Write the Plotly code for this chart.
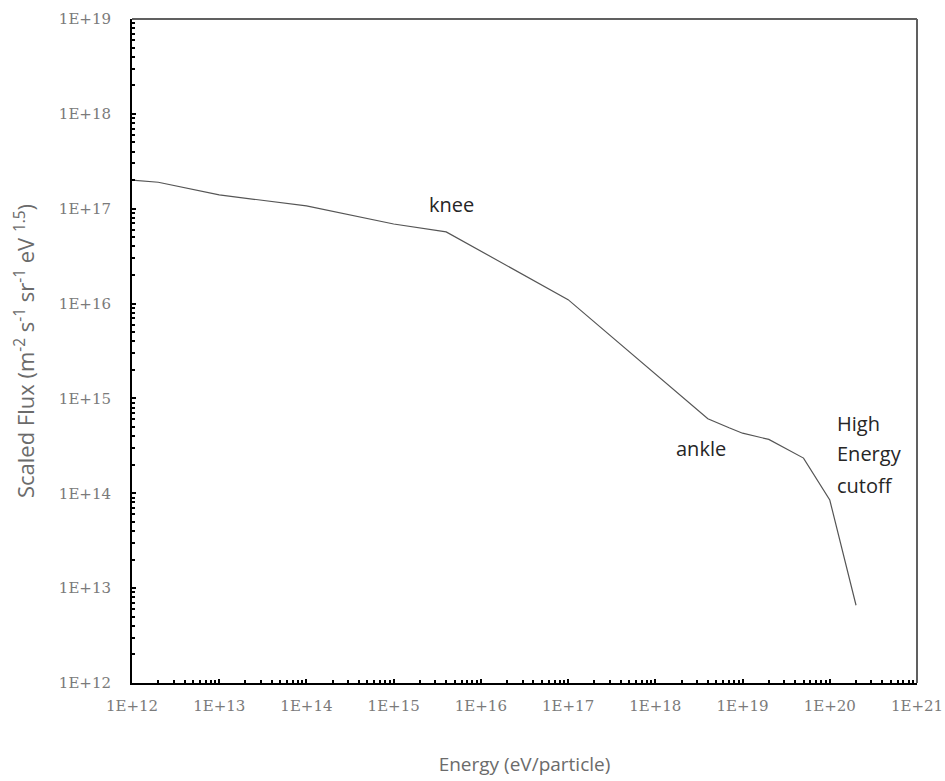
import numpy as np
import plotly.graph_objects as go

energy = [1e12, 2e12, 1e13, 1e14, 1e15, 4e15, 1e17, 4e18, 7e18, 1e19, 2e19, 5e19, 1e20, 2e20]
flux = [2.0e17, 1.9e17, 1.4e17, 1.07e17, 6.9e16, 5.7e16, 1.1e16, 6.1e14, 4.9e14, 4.3e14, 3.7e14, 2.35e14, 8.5e13, 6.6e12]

x_tickvals = [1e12, 1e13, 1e14, 1e15, 1e16, 1e17, 1e18, 1e19, 1e20, 1e21]
x_ticktext = ["1E+12", "1E+13", "1E+14", "1E+15", "1E+16", "1E+17", "1E+18", "1E+19", "1E+20", "1E+21"]
y_tickvals = [1e12, 1e13, 1e14, 1e15, 1e16, 1e17, 1e18, 1e19]
y_ticktext = ["1E+12", "1E+13", "1E+14", "1E+15", "1E+16", "1E+17", "1E+18", "1E+19"]

labels = ["knee", "ankle", "High", "Energy", "cutoff"]
label_x = [4.6e15, 3.3e18, 1.15e20, 1.15e20, 1.15e20]
label_y = [1.1e17, 2.95e14, 5.5e14, 2.65e14, 1.2e14]
label_anchor = ["center", "center", "left", "left", "left"]

fig = go.Figure()
fig.add_trace(go.Scatter(x=energy, y=flux, mode="lines",
                         line=dict(color="#555555", width=1.2), showlegend=False))

for t, xx, yy, anc in zip(labels, label_x, label_y, label_anchor):
    fig.add_annotation(x=np.log10(xx), y=np.log10(yy), xref="x", yref="y", text=t,
                       showarrow=False, xanchor=anc, yanchor="middle",
                       font=dict(family="Open Sans", size=20, color="#262626"))

tick_font = dict(family="DejaVu Serif", size=15, color="#7a7a7a")
title_font = dict(family="Open Sans", size=19, color="#6b6b6b")

fig.update_xaxes(type="log", range=[12, 21], tickvals=x_tickvals, ticktext=x_ticktext,
                 showgrid=False, zeroline=False, showline=True, linecolor="black", linewidth=2,
                 ticks="inside", ticklen=4, tickcolor="black", tickwidth=1.5,
                 minor=dict(ticks="inside", ticklen=3, tickcolor="black", tickwidth=1.5, dtick="D1", showgrid=False),
                 tickfont=tick_font, ticklabelstandoff=8, automargin=False,
                 title=dict(text="Energy (eV/particle)", font=title_font, standoff=44))
fig.update_yaxes(type="log", range=[12, 19], tickvals=y_tickvals, ticktext=y_ticktext,
                 showgrid=False, zeroline=False, showline=True, linecolor="black", linewidth=2,
                 ticks="inside", ticklen=4, tickcolor="black", tickwidth=1.5,
                 minor=dict(ticks="inside", ticklen=3, tickcolor="black", tickwidth=1.5, dtick="D1", showgrid=False),
                 tickfont=tick_font, ticklabelstandoff=16, automargin=False,
                 title=dict(text="Scaled Flux (m<sup>-2</sup> s<sup>-1</sup> sr<sup>-1</sup> eV <sup>1.5</sup>)",
                            font=dict(family="Open Sans", size=22, color="#6b6b6b"), standoff=18))

fig.add_shape(type="line", xref="paper", yref="paper", x0=0, x1=1, y0=1, y1=1,
              line=dict(color="#606060", width=2))
fig.add_shape(type="line", xref="paper", yref="paper", x0=1, x1=1, y0=0, y1=1,
              line=dict(color="#606060", width=2))

fig.update_layout(width=945, height=781, margin=dict(l=132, r=28, t=19, b=98),
                  plot_bgcolor="white", paper_bgcolor="white")
fig.write_html("out.html")
